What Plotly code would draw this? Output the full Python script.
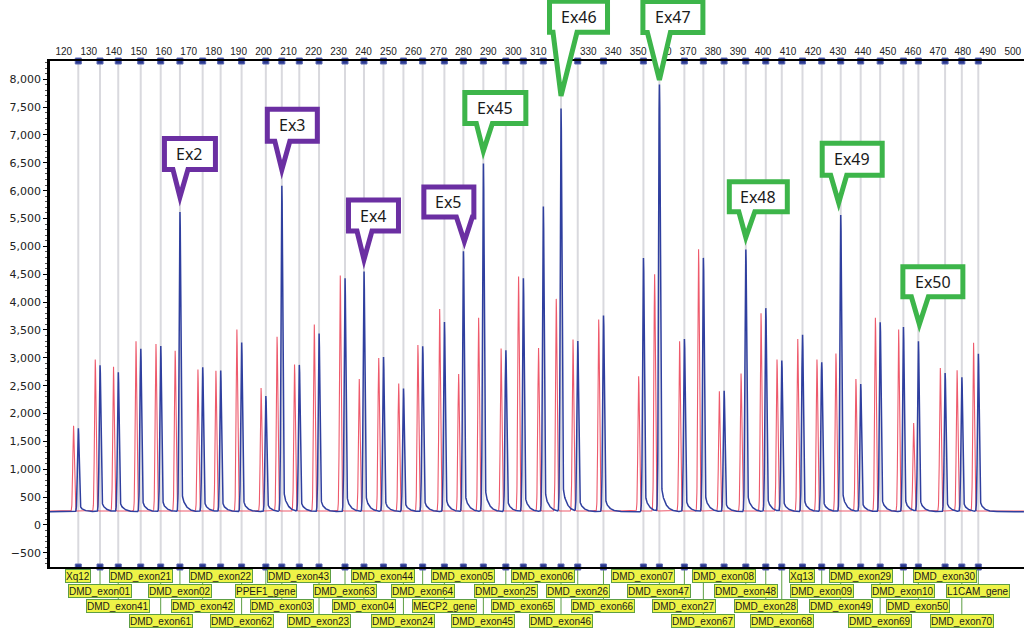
import numpy as np
import plotly.graph_objects as go

# ---------------- data ----------------
sizes = [125.8, 134.5, 141.8, 150.8, 158.8, 166.5, 175.6, 182.8, 191.2, 200.9,
         207.3, 214.3, 222.2, 232.6, 240.2, 248.0, 256.0, 263.7, 272.4, 280.0,
         288.0, 297.0, 304.0, 312.0, 319.1, 325.8, 336.1, 352.1, 358.5, 368.5,
         376.1, 384.4, 393.1, 401.1, 407.5, 415.8, 423.5, 431.1, 439.1, 446.9,
         456.2, 462.2, 472.9, 479.6, 486.2]
blue_heights = [1730, 2860, 2730, 3150, 3200, 5600, 2820, 2760, 3260, 2310,
                6070, 2860, 3420, 4410, 4530, 3000, 2440, 3200, 3630, 4890,
                6460, 3120, 4410, 5690, 7450, 3280, 3750, 4780, 7880, 3330,
                4780, 2400, 4930, 3880, 2940, 3400, 2910, 5550, 2520, 3630,
                3540, 3280, 2720, 2640, 3060]
red_heights = [1780, 2970, 2840, 3300, 3250, 3130, 2790, 2770, 3510, 2460,
               3380, 2880, 3600, 4480, 2620, 3000, 2540, 3230, 3880, 2710,
               3720, 3170, 4460, 3180, 4060, 3330, 3690, 2670, 4500, 3300,
               4950, 2400, 2720, 3800, 2970, 3340, 2970, 3080, 2620, 3720,
               3510, 1830, 2820, 2780, 3270]
probe_labels = ["Xq12", "DMD_exon01", "DMD_exon41", "DMD_exon21", "DMD_exon61",
                "DMD_exon02", "DMD_exon42", "DMD_exon22", "DMD_exon62", "PPEF1_gene",
                "DMD_exon03", "DMD_exon43", "DMD_exon23", "DMD_exon63", "DMD_exon04",
                "DMD_exon44", "DMD_exon24", "DMD_exon64", "MECP2_gene", "DMD_exon05",
                "DMD_exon45", "DMD_exon25", "DMD_exon65", "DMD_exon06", "DMD_exon46",
                "DMD_exon26", "DMD_exon66", "DMD_exon07", "DMD_exon47", "DMD_exon27",
                "DMD_exon67", "DMD_exon08", "DMD_exon48", "DMD_exon28", "DMD_exon68",
                "Xq13", "DMD_exon09", "DMD_exon49", "DMD_exon29", "DMD_exon69",
                "DMD_exon10", "DMD_exon50", "DMD_exon30", "DMD_exon70", "L1CAM_gene"]
label_rows = [1, 2, 3, 1, 4, 2, 3, 1, 4, 2, 3, 1, 4, 2, 3, 1, 4, 2, 3, 1, 4, 2, 3,
              1, 4, 2, 3, 1, 2, 3, 4, 1, 2, 3, 4, 1, 2, 3, 1, 4, 2, 3, 1, 4, 2]
red_shift = 1.9          # reference-sample peak runs slightly ahead
blue_baseline = 238
red_baseline = 250
x_ticks = list(range(120, 501, 10))
y_ticks = list(range(-500, 8001, 500))

# callouts: (text, peak index, colour group)
callout_names = ["Ex2", "Ex3", "Ex4", "Ex5", "Ex45", "Ex46", "Ex47", "Ex48", "Ex49", "Ex50"]
callout_peaks = [5, 10, 14, 19, 20, 24, 28, 32, 37, 41]
callout_groups = ["p", "p", "p", "p", "g", "g", "g", "g", "g", "g"]

# ---------------- layout constants ----------------
X0, X1 = 114.47, 504.5
Y0, Y1 = -754, 8327
PURPLE = "#6b2fa2"
GREEN = "#3db54a"
# callout geometry in pixels relative to the peak top (y up)
callout_geom = [
    # box x0, box x1, box bottom, box top, tip dx, tip dy, base0, base1
    (-18, 38, 41, 77, 0, 15, -7, 8),
    (-17, 38, 43, 80, 0, 16, -7, 8),
    (-18, 37, 39, 75, 0, 12, -7, 8),
    (-42, 13, 33, 68, 1, 10, -7, 9),
    (-21, 45, 39, 75, 0, 13, -7, 9),
    (-14, 49, 75, 111, 0, 13, -8, 16),
    (-19, 46, 51, 87, 0, 5, -12, 11),
    (-19, 44, 36, 71, 0, 12, -7, 9),
    (-21, 44, 38, 75, -2, 12, -10, 6),
    (-18, 47, 43, 78, 1, 17, -7, 10),
]

# ---------------- traces ----------------
xs = np.arange(X0, X1, 0.04)
blue = np.full_like(xs, float(blue_baseline))
red = np.full_like(xs, float(red_baseline))
sig_b, sig_r = 0.32, 0.30
for p, hb, hr in zip(sizes, blue_heights, red_heights):
    d = xs - p
    amp = hb - blue_baseline
    blue += amp * np.exp(-d ** 2 / (2 * sig_b ** 2))
    dc = np.clip(d, 0, None)
    tail = np.where(d > 0, 0.09 * amp * np.exp(-dc / 1.6) * (1 - np.exp(-dc / 0.3)), 0)
    blue += tail
    dr = xs - (p - red_shift)
    red += (hr - red_baseline) * np.exp(-dr ** 2 / (2 * sig_r ** 2))

fig = go.Figure()
fig.add_trace(go.Scatter(x=xs, y=red, mode="lines",
                         line=dict(color="#ee5a6c", width=1.1), hoverinfo="skip"))
fig.add_trace(go.Scatter(x=xs, y=blue, mode="lines",
                         line=dict(color="#2f3f9f", width=1.5), hoverinfo="skip"))
# axis markers (top & bottom)
for yv in (Y1, Y0):
    fig.add_trace(go.Scatter(x=sizes, y=[yv] * len(sizes), mode="markers",
                             marker=dict(symbol="square", size=6, color="#2b3990",
                                         line=dict(color="#5a66b0", width=1)),
                             cliponaxis=False, hoverinfo="skip"))

shapes = []
annotations = []
# grey size lines
for p in sizes:
    shapes.append(dict(type="line", xref="x", yref="paper", x0=p, x1=p, y0=0, y1=1,
                       line=dict(color="#d9d9de", width=2), layer="below"))

# bottom label boxes
plot_top_px, plot_bot_px = 61, 567
row_px = {1: 576, 2: 591, 3: 606, 4: 621}
ph = plot_bot_px - plot_top_px
for p, lab, r in zip(sizes, probe_labels, label_rows):
    yr = (plot_bot_px - row_px[r]) / ph
    shapes.append(dict(type="line", xref="x", yref="paper", x0=p, x1=p, y0=0, y1=yr,
                       line=dict(color="#5d9e44", width=1), layer="below"))
    annotations.append(dict(x=p, y=yr, xref="x", yref="paper", text=lab,
                            showarrow=False, xanchor="center", yanchor="middle",
                            font=dict(family="Liberation Sans, Arial", size=10, color="#1a1a1a"),
                            bgcolor="#eef347", bordercolor="#5d9e44", borderwidth=1,
                            borderpad=0, height=12, width=None))

# callouts
for name, idx, grp, g in zip(callout_names, callout_peaks, callout_groups, callout_geom):
    bx0, bx1, bb, bt, tdx, tdy, b0, b1 = g
    col = PURPLE if grp == "p" else GREEN
    p = sizes[idx]
    h = blue_heights[idx]
    ya = (h - Y0) / (Y1 - Y0)
    w = 2.5
    path = (f"M{bx0 + w},{bt - w} L{bx1 - w},{bt - w} L{bx1 - w},{bb + w} "
            f"L{b1},{bb + w} L{tdx},{tdy + 1} L{b0},{bb + w} L{bx0 + w},{bb + w} Z")
    shapes.append(dict(type="path", xref="x", yref="paper", xsizemode="pixel",
                       ysizemode="pixel", xanchor=p, yanchor=ya, path=path,
                       fillcolor="white", line=dict(color=col, width=5), layer="above"))
    annotations.append(dict(x=p, y=h, xref="x", yref="y", text=name, showarrow=False,
                            xshift=(bx0 + bx1) / 2, yshift=(bb + bt) / 2,
                            xanchor="center", yanchor="middle",
                            font=dict(family="Noto Sans, Open Sans", size=16, color="#1a1a1a")))

fig.update_layout(
    width=1024, height=634,
    margin=dict(l=50, r=0, t=plot_top_px, b=634 - plot_bot_px),
    paper_bgcolor="white", plot_bgcolor="white",
    showlegend=False,
    shapes=shapes, annotations=annotations,
    xaxis=dict(range=[X0, X1], side="top", tickvals=x_ticks, showgrid=False,
               zeroline=False, showline=True, linecolor="black", linewidth=1.5,
               mirror=True, ticks="",
               tickfont=dict(family="Liberation Sans, Arial", size=10, color="#222")),
    yaxis=dict(range=[Y0, Y1], tickvals=y_ticks, tickformat=",", showgrid=False,
               zeroline=False, showline=True, linecolor="black", linewidth=2.5,
               ticks="outside", ticklen=4, tickcolor="black",
               minor=dict(ticks="outside", ticklen=2, dtick=100, tickcolor="#555"),
               tickfont=dict(family="DejaVu Sans", size=11, color="#222")),
)

fig.write_html("out.html", config={"displayModeBar": False},
               post_script="document.body.style.margin='0';document.body.style.padding='0';")
